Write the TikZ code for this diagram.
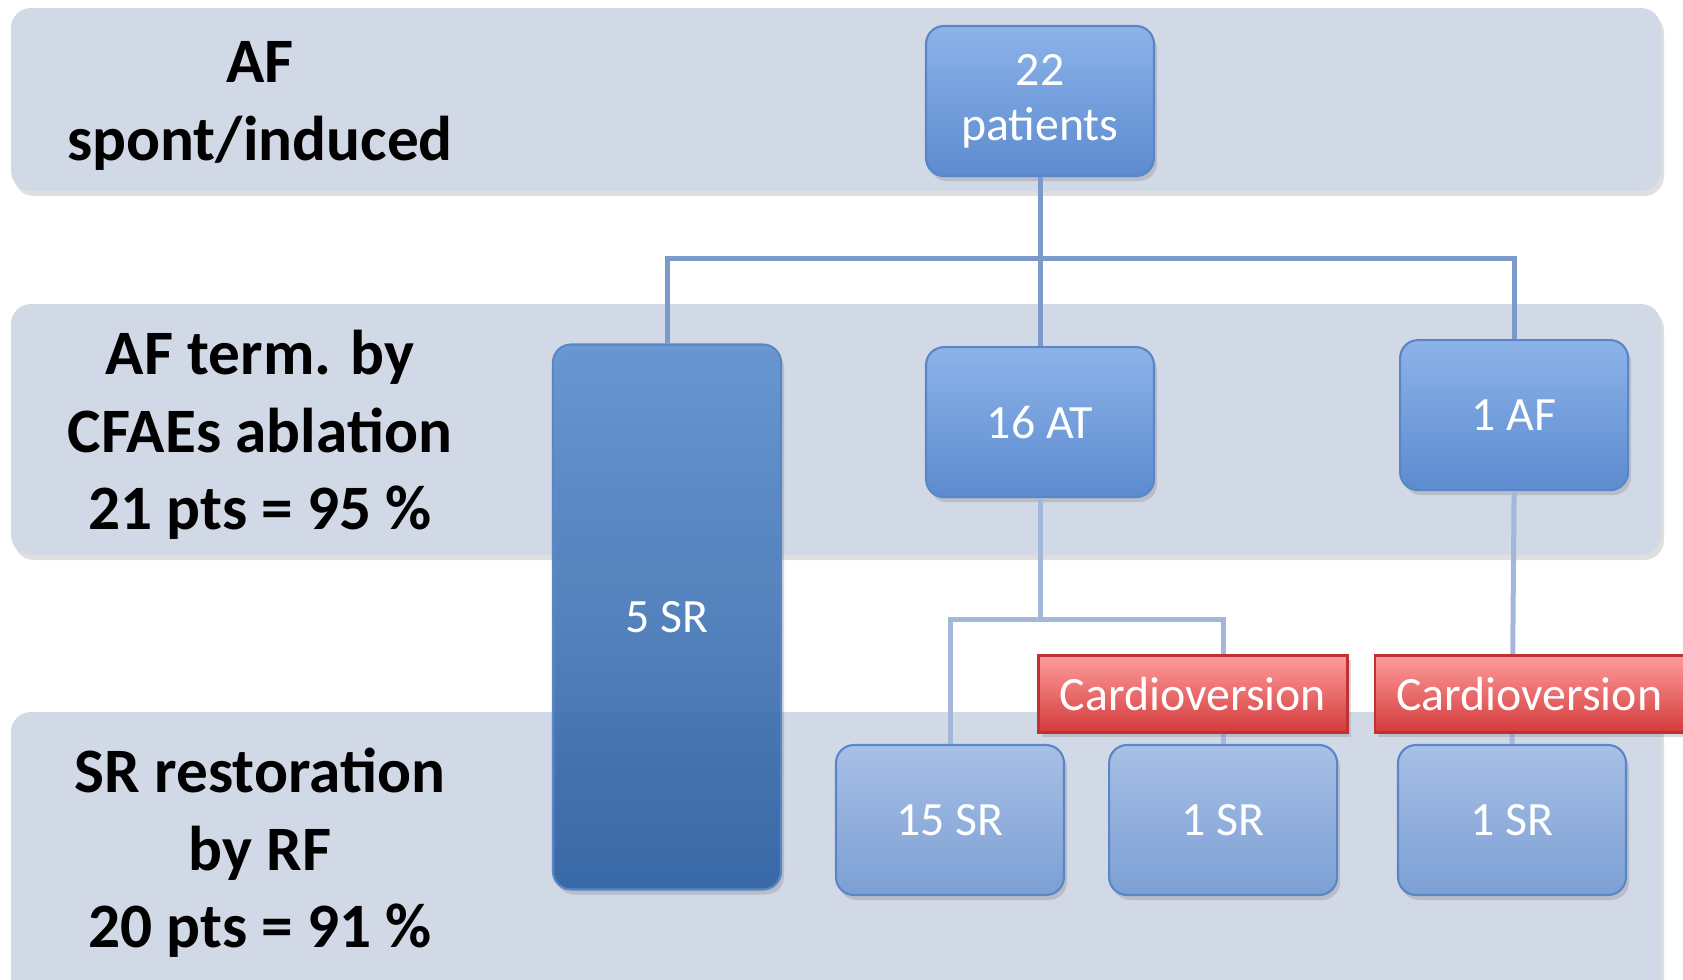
\documentclass[tikz,border=0pt]{standalone}
\usepackage{fontspec}
\setmainfont{Carlito}
\usetikzlibrary{positioning,shadows}
\definecolor{bandfill}{HTML}{D1D8E6}
\definecolor{linkblue}{HTML}{7B9AC9}
\definecolor{linkpale}{HTML}{A3B7DA}
\definecolor{stageedge}{HTML}{5A86C5}
\definecolor{shockedge}{HTML}{BE3232}
\tikzset{band/.style = {fill=bandfill, rounded corners=2mm, drop shadow={opacity=0.25, shadow xshift=0.3mm, shadow yshift=-0.5mm}}}
\tikzset{rowtext/.style = {align=center, font=\fontsize{18}{22}\selectfont\bfseries}}
\tikzset{stage/.style = {draw=stageedge, rounded corners=1.8mm, top color={rgb,255:red,141;green,179;blue,233}, bottom color={rgb,255:red,92;green,139;blue,207}, text=white, align=center, minimum width=22.8mm, minimum height=15mm, inner sep=0pt, font=\fontsize{13.6}{15.6}\selectfont, drop shadow={opacity=0.3, shadow xshift=0.3mm, shadow yshift=-0.5mm}}}
\tikzset{stagelight/.style = {stage, top color={rgb,255:red,167;green,192;blue,230}, bottom color={rgb,255:red,124;green,159;blue,212}}}
\tikzset{stagedark/.style = {stage, fill opacity=0.93, text opacity=1, top color={rgb,255:red,99;green,148;blue,210}, bottom color={rgb,255:red,47;green,98;blue,163}}}
\tikzset{shock/.style = {draw=shockedge, top color={rgb,255:red,255;green,156;blue,156}, bottom color={rgb,255:red,211;green,59;blue,59}, text=white, minimum width=30.9mm, minimum height=7.7mm, inner sep=0pt, font=\fontsize{13.6}{15.6}\selectfont, drop shadow={opacity=0.3, shadow xshift=0.3mm, shadow yshift=-0.4mm}}}
\tikzset{link/.style = {draw=linkblue, line width=0.5mm}}
\tikzset{linklight/.style = {draw=linkpale, line width=0.5mm}}

\begin{document}
\begin{tikzpicture}[x=0.1mm, y=-0.1mm, semithick]
  \useasboundingbox (0,0) rectangle (1683,980);
  \begin{scope}
    \clip (0,0) rectangle (1683,980);
    \path[band] (11,8) rectangle (1661,191);
    \path[band] (11,304) rectangle (1661,555);
    \path[band] (11,712) rectangle (1661,1010);
  \end{scope}

  \node [rowtext] (row1) at (260,106) {AF\\spont/induced};
  \node [rowtext] (row2) at (260,435) {AF term. by\\CFAEs ablation\\21 pts = 95 \%};
  \node [rowtext] (row3) at (260,853) {SR restoration\\by RF\\20 pts = 91 \%};

  \node [stage] (p22) at (1040,101) {22\\patients};
  \node [stage, below=16.9mm of p22] (at16) {16 AT};
  \node [stage, right=24.4mm of at16, yshift=0.7mm] (af1) {1 AF};
  \node [stagedark, minimum height=54.5mm] (sr5) at (667,617) {5 SR};
  \node [stagelight] (sr15) at (950,820) {15 SR};
  \node [stagelight, right=4.3mm of sr15] (sr1a) {1 SR};
  \node [stagelight] (sr1b) at (1512,820) {1 SR};

  \coordinate (split) at (1040,258);
  \coordinate (fork) at (1040,619);
  \draw[link] (p22.south) -- (at16.north);
  \draw[link] (split) -| (sr5.north);
  \draw[link] (split) -| (af1.north);
  \draw[linklight] (at16.south) -- (fork);
  \draw[linklight] (fork) -| (sr15.north);
  \draw[linklight] (fork) -| (sr1a.north);
  \draw[linklight] (af1.south) -- (sr1b.north);

  \node [shock] (cv1) at (1193,694) {Cardioversion};
  \node [shock, right=2.5mm of cv1] (cv2) {Cardioversion};
\end{tikzpicture}
\end{document}
